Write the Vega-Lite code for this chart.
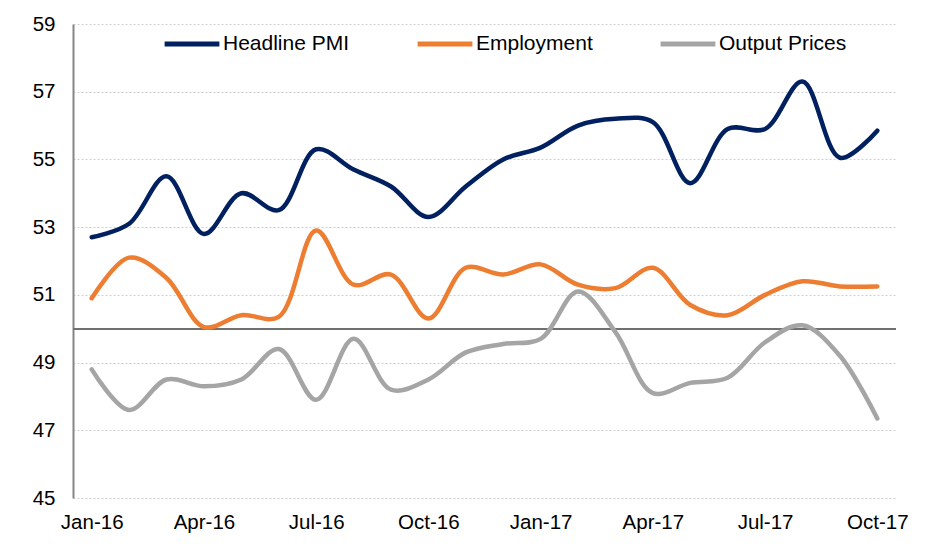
{
  "$schema": "https://vega.github.io/schema/vega-lite/v6.json",
  "autosize": {"type": "none"},
  "width": 823,
  "height": 474,
  "padding": {"left": 73, "top": 24, "right": 48, "bottom": 48},
  "background": "white",
  "config": {"font": "Liberation Sans", "view": {"stroke": null}},
  "data": {"values": [
    {"month": "Jan-16", "series": "Headline PMI", "value": 52.7},
    {"month": "Feb-16", "series": "Headline PMI", "value": 53.1},
    {"month": "Mar-16", "series": "Headline PMI", "value": 54.5},
    {"month": "Apr-16", "series": "Headline PMI", "value": 52.8},
    {"month": "May-16", "series": "Headline PMI", "value": 54.0},
    {"month": "Jun-16", "series": "Headline PMI", "value": 53.5},
    {"month": "Jul-16", "series": "Headline PMI", "value": 55.3},
    {"month": "Aug-16", "series": "Headline PMI", "value": 54.7},
    {"month": "Sep-16", "series": "Headline PMI", "value": 54.2},
    {"month": "Oct-16", "series": "Headline PMI", "value": 53.3},
    {"month": "Nov-16", "series": "Headline PMI", "value": 54.2},
    {"month": "Dec-16", "series": "Headline PMI", "value": 55.0},
    {"month": "Jan-17", "series": "Headline PMI", "value": 55.35},
    {"month": "Feb-17", "series": "Headline PMI", "value": 56.0},
    {"month": "Mar-17", "series": "Headline PMI", "value": 56.2},
    {"month": "Apr-17", "series": "Headline PMI", "value": 56.1},
    {"month": "May-17", "series": "Headline PMI", "value": 54.3},
    {"month": "Jun-17", "series": "Headline PMI", "value": 55.9},
    {"month": "Jul-17", "series": "Headline PMI", "value": 55.9},
    {"month": "Aug-17", "series": "Headline PMI", "value": 57.3},
    {"month": "Sep-17", "series": "Headline PMI", "value": 55.05},
    {"month": "Oct-17", "series": "Headline PMI", "value": 55.85},
    {"month": "Jan-16", "series": "Employment", "value": 50.9},
    {"month": "Feb-16", "series": "Employment", "value": 52.1},
    {"month": "Mar-16", "series": "Employment", "value": 51.5},
    {"month": "Apr-16", "series": "Employment", "value": 50.05},
    {"month": "May-16", "series": "Employment", "value": 50.4},
    {"month": "Jun-16", "series": "Employment", "value": 50.35},
    {"month": "Jul-16", "series": "Employment", "value": 52.9},
    {"month": "Aug-16", "series": "Employment", "value": 51.3},
    {"month": "Sep-16", "series": "Employment", "value": 51.6},
    {"month": "Oct-16", "series": "Employment", "value": 50.3},
    {"month": "Nov-16", "series": "Employment", "value": 51.8},
    {"month": "Dec-16", "series": "Employment", "value": 51.6},
    {"month": "Jan-17", "series": "Employment", "value": 51.9},
    {"month": "Feb-17", "series": "Employment", "value": 51.3},
    {"month": "Mar-17", "series": "Employment", "value": 51.2},
    {"month": "Apr-17", "series": "Employment", "value": 51.8},
    {"month": "May-17", "series": "Employment", "value": 50.7},
    {"month": "Jun-17", "series": "Employment", "value": 50.4},
    {"month": "Jul-17", "series": "Employment", "value": 51.0},
    {"month": "Aug-17", "series": "Employment", "value": 51.4},
    {"month": "Sep-17", "series": "Employment", "value": 51.25},
    {"month": "Oct-17", "series": "Employment", "value": 51.25},
    {"month": "Jan-16", "series": "Output Prices", "value": 48.8},
    {"month": "Feb-16", "series": "Output Prices", "value": 47.6},
    {"month": "Mar-16", "series": "Output Prices", "value": 48.5},
    {"month": "Apr-16", "series": "Output Prices", "value": 48.3},
    {"month": "May-16", "series": "Output Prices", "value": 48.5},
    {"month": "Jun-16", "series": "Output Prices", "value": 49.4},
    {"month": "Jul-16", "series": "Output Prices", "value": 47.9},
    {"month": "Aug-16", "series": "Output Prices", "value": 49.7},
    {"month": "Sep-16", "series": "Output Prices", "value": 48.2},
    {"month": "Oct-16", "series": "Output Prices", "value": 48.5},
    {"month": "Nov-16", "series": "Output Prices", "value": 49.3},
    {"month": "Dec-16", "series": "Output Prices", "value": 49.55},
    {"month": "Jan-17", "series": "Output Prices", "value": 49.7},
    {"month": "Feb-17", "series": "Output Prices", "value": 51.1},
    {"month": "Mar-17", "series": "Output Prices", "value": 49.9},
    {"month": "Apr-17", "series": "Output Prices", "value": 48.1},
    {"month": "May-17", "series": "Output Prices", "value": 48.4},
    {"month": "Jun-17", "series": "Output Prices", "value": 48.55},
    {"month": "Jul-17", "series": "Output Prices", "value": 49.6},
    {"month": "Aug-17", "series": "Output Prices", "value": 50.1},
    {"month": "Sep-17", "series": "Output Prices", "value": 49.2},
    {"month": "Oct-17", "series": "Output Prices", "value": 47.35}
  ]},
  "layer": [
    {
      "mark": {"type": "rule", "color": "#707070", "strokeWidth": 1.5},
      "encoding": {"y": {"datum": 50, "type": "quantitative", "scale": {"domain": [45, 59], "nice": false, "zero": false}}}
    },
    {
      "mark": {"type": "line", "interpolate": "catmull-rom", "strokeWidth": 4.5, "strokeCap": "round", "strokeJoin": "round"},
      "encoding": {
        "x": {
          "field": "month", "type": "ordinal", "sort": null,
          "scale": {"type": "point", "padding": 0.5},
          "axis": {
            "title": null, "values": ["Jan-16", "Apr-16", "Jul-16", "Oct-16", "Jan-17", "Apr-17", "Jul-17", "Oct-17"],
            "labelAngle": 0, "labelFontSize": 20.5, "labelColor": "#000", "labelPadding": 14,
            "domain": false, "ticks": false, "grid": false
          }
        },
        "y": {
          "field": "value", "type": "quantitative",
          "scale": {"domain": [45, 59], "nice": false, "zero": false},
          "axis": {
            "title": null, "values": [45, 47, 49, 51, 53, 55, 57, 59],
            "labelFontSize": 20.5, "labelColor": "#000", "labelPadding": 18,
            "ticks": false, "domain": true, "domainColor": "#868686", "domainWidth": 2,
            "grid": true, "gridColor": "#d0d0d0", "gridDash": [2, 2], "gridWidth": 1.2
          }
        },
        "color": {
          "field": "series", "type": "nominal",
          "scale": {"domain": ["Headline PMI", "Employment", "Output Prices"], "range": ["#002060", "#ED7D31", "#A5A5A5"]},
          "legend": {
            "title": null, "orient": "none", "legendX": 89, "legendY": -10, "direction": "horizontal", "columns": 3,
            "symbolType": "stroke", "symbolSize": 3000, "symbolStrokeWidth": 5,
            "labelFontSize": 21, "labelColor": "#000", "labelOffset": 1, "columnPadding": 57, "labelLimit": 300
          }
        }
      }
    }
  ]
}
